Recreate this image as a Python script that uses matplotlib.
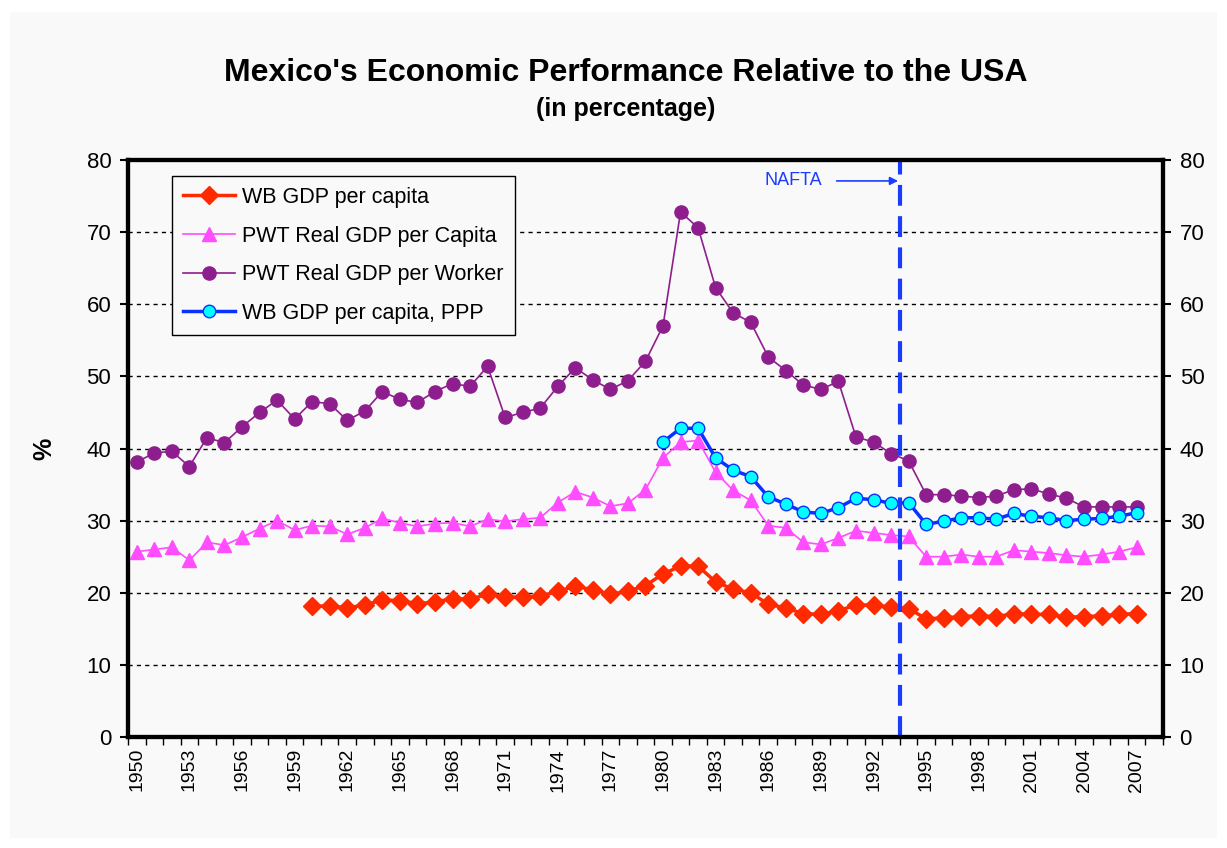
import numpy as np
import matplotlib
matplotlib.use("Agg")
import matplotlib.pyplot as plt
from matplotlib.ticker import MultipleLocator
from matplotlib.patches import Rectangle

plt.rcParams['font.family'] = ['Liberation Sans', 'DejaVu Sans']

# Data (percent of USA)
years_pwt = list(range(1950, 2008))
pwt_per_worker = [38.1, 39.4, 39.6, 37.5, 41.5, 40.8, 43.0, 45.0, 46.7, 44.1,
                  46.5, 46.2, 43.9, 45.2, 47.9, 46.8, 46.4, 47.9, 49.0, 48.6,
                  51.4, 44.3, 45.0, 45.6, 48.6, 51.2, 49.5, 48.2, 49.4, 52.1,
                  57.0, 72.8, 70.6, 62.3, 58.8, 57.5, 52.7, 50.8, 48.8, 48.2,
                  49.3, 41.6, 40.9, 39.3, 38.3, 33.6, 33.6, 33.4, 33.2, 33.4,
                  34.3, 34.4, 33.7, 33.1, 31.9, 31.9, 31.9, 31.9]
pwt_per_capita = [25.7, 26.0, 26.3, 24.5, 27.0, 26.6, 27.7, 28.9, 30.0, 28.7,
                  29.3, 29.2, 28.1, 29.0, 30.3, 29.7, 29.2, 29.6, 29.7, 29.2,
                  30.2, 29.9, 30.2, 30.4, 32.5, 34.0, 33.2, 32.0, 32.4, 34.3,
                  38.7, 40.9, 41.1, 36.7, 34.2, 32.8, 29.3, 29.0, 27.0, 26.7,
                  27.6, 28.6, 28.3, 28.0, 27.8, 25.0, 25.0, 25.3, 25.0, 25.0,
                  25.9, 25.7, 25.5, 25.2, 25.0, 25.3, 25.7, 26.3]

years_wb = list(range(1960, 2008))
wb_per_capita = [18.1, 18.2, 17.9, 18.3, 19.0, 18.9, 18.5, 18.7, 19.2, 19.1,
                 19.8, 19.4, 19.4, 19.5, 20.2, 20.9, 20.4, 19.8, 20.2, 21.0,
                 22.6, 23.7, 23.7, 21.5, 20.5, 20.0, 18.4, 17.9, 17.1, 17.0,
                 17.5, 18.3, 18.3, 18.0, 17.8, 16.4, 16.5, 16.7, 16.8, 16.7,
                 17.1, 17.0, 17.0, 16.6, 16.7, 16.8, 17.0, 17.1]

years_ppp = list(range(1980, 2008))
wb_ppp = [40.9, 42.8, 42.8, 38.7, 37.0, 36.1, 33.3, 32.3, 31.2, 31.0,
          31.8, 33.1, 32.9, 32.4, 32.5, 29.5, 29.9, 30.4, 30.4, 30.2,
          31.0, 30.6, 30.4, 30.0, 30.2, 30.3, 30.6, 31.1]

tick_years = list(range(1950, 2008, 3))
nafta_year = 1993.5

bg = '#f9f9f9'
fig = plt.figure(figsize=(12.27, 8.48), dpi=100, facecolor='white')
# light grey panel behind the chart
fig.patches.append(Rectangle((10 / 1227, 10 / 848), 1207 / 1227, 826 / 848,
                             transform=fig.transFigure, facecolor=bg,
                             edgecolor='none', zorder=-10))

ax = fig.add_axes([0.1043, 0.1309, 0.8435, 0.6804])
ax.set_facecolor(bg)

ax.plot(years_wb, wb_per_capita, color='#ff2a00', lw=2.5, marker='D',
        ms=9, mec='#ff2a00', mfc='#ff2a00', label='WB GDP per capita', zorder=4)
ax.plot(years_pwt, pwt_per_capita, color='#ff4dff', lw=1.2, marker='^',
        ms=9.5, mec='#ff4dff', mfc='#ff4dff', label='PWT Real GDP per Capita', zorder=3)
ax.plot(years_pwt, pwt_per_worker, color='#8e1e8e', lw=1.2, marker='o',
        ms=9.5, mec='#8e1e8e', mfc='#8e1e8e', label='PWT Real GDP per Worker', zorder=3)
ax.plot(years_ppp, wb_ppp, color='#0a32ff', lw=2.5, marker='o',
        ms=9, mec='#0a32ff', mew=1, mfc='#00ffff', label='WB GDP per capita, PPP', zorder=5)

# NAFTA marker
ax.axvline(nafta_year, color='#1a3cff', lw=3, dashes=(5, 2.5), zorder=6)
ax.text(1987.4, 77.1, 'NAFTA', color='#1a3cff', fontsize=13, ha='center', va='center')
ax.annotate('', xy=(nafta_year - 0.1, 77.1), xytext=(1989.9, 77.1),
            arrowprops=dict(arrowstyle='-|>', color='#1a3cff', lw=1.2,
                            mutation_scale=12, shrinkA=0, shrinkB=0))

ax.set_xlim(1949.5, 2008.5)
ax.set_ylim(0, 80)
ax.yaxis.set_major_locator(MultipleLocator(10))
ax.grid(axis='y', color='black', ls=(0, (3, 3)), lw=1)
ax.set_axisbelow(True)

ax.set_xticks(tick_years)
ax.set_xticklabels([str(y) for y in tick_years], rotation=90)
ax.set_xticks(np.arange(1949.5, 2009, 1), minor=True)
ax.tick_params(axis='x', which='major', length=0, pad=8, labelsize=14)
ax.tick_params(axis='x', which='minor', length=6, width=1)
ax.tick_params(axis='y', length=6, width=1.5, labelsize=16, pad=6)
for s in ax.spines.values():
    s.set_linewidth(3)

ax2 = ax.twinx()
ax2.set_ylim(0, 80)
ax2.yaxis.set_major_locator(MultipleLocator(10))
ax2.tick_params(axis='y', length=6, width=1.5, labelsize=16, pad=6)
for s in ax2.spines.values():
    s.set_linewidth(3)

ax.set_ylabel('%', fontsize=18, fontweight='bold', labelpad=22)

leg = ax.legend(loc='upper left', bbox_to_anchor=(0.043, 0.972), fontsize=15.5,
                frameon=True, fancybox=False, edgecolor='black', framealpha=1,
                facecolor=bg, borderpad=0.5, labelspacing=0.82,
                handlelength=2.4, handletextpad=0.35, borderaxespad=0)
leg.get_frame().set_linewidth(1)

fig.text(0.51, 0.914, "Mexico's Economic Performance Relative to the USA",
         ha='center', va='center', fontsize=23, fontweight='bold')
fig.text(0.51, 0.872, "(in percentage)", ha='center', va='center',
         fontsize=18, fontweight='bold')

fig.savefig('out.png', dpi=100, facecolor=fig.get_facecolor())
